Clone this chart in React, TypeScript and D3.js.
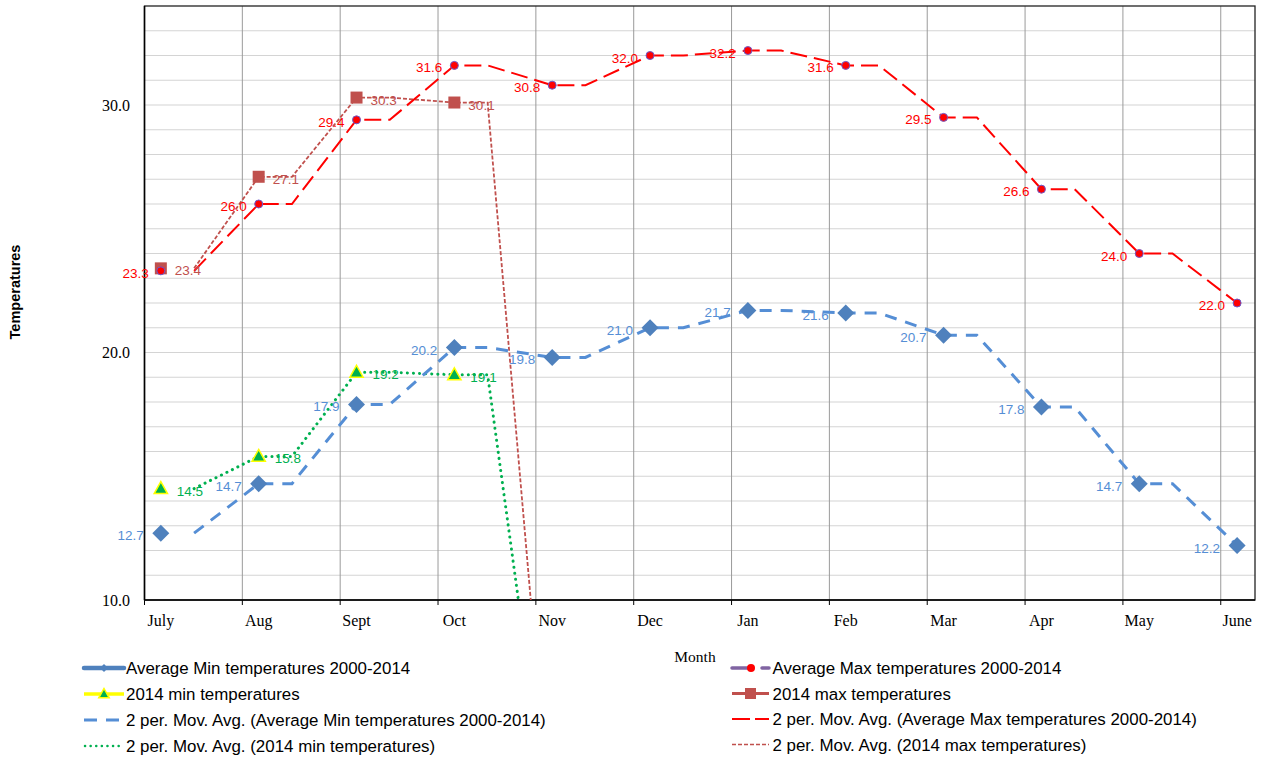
import React from "react";
import * as d3 from "d3";

const months = ["July", "Aug", "Sept", "Oct", "Nov", "Dec", "Jan", "Feb", "Mar", "Apr", "May", "June"];
const avgMin = [12.7, 14.7, 17.9, 20.2, 19.8, 21.0, 21.7, 21.6, 20.7, 17.8, 14.7, 12.2];
const avgMax = [23.3, 26.0, 29.4, 31.6, 30.8, 32.0, 32.2, 31.6, 29.5, 26.6, 24.0, 22.0];
const min2014 = [14.5, 15.8, 19.2, 19.1];
const max2014 = [23.4, 27.1, 30.3, 30.1];
const yTicks = [10, 20, 30];

const W = 1261;
const H = 758;
const plot = { left: 144.5, right: 1255, top: 6, bottom: 600 };

// points sit a few days into each month on the date axis
const PT = 0.167;
const MA = 0.34;

const x = d3.scaleLinear().domain([0, 11.35]).range([plot.left, plot.right]);
const y = d3.scaleLinear().domain([10, 34]).range([plot.bottom, plot.top]);

const line = d3
  .line<[number, number]>()
  .x((d) => x(d[0]))
  .y((d) => y(d[1]));

// 2 period moving average as the spreadsheet draws it (missing months count as 0)
function movAvg(vals: number[]): [number, number][] {
  const v = vals.length < months.length ? [...vals, 0] : vals;
  const pts: [number, number][] = [];
  v.forEach((val, i) => {
    if (i > 0) pts.push([i + PT, val]);
    if (i < v.length - 1) pts.push([i + PT + MA, val]);
  });
  return pts;
}

const sans = "'Liberation Sans', Arial, sans-serif";
const serif = "'Liberation Serif', 'Times New Roman', serif";

const C = {
  minBlue: "#4f81bd",
  minLabel: "#558ed5",
  red: "#ff0000",
  purple: "#8064a2",
  brown: "#c0504d",
  green: "#00b050",
  yellow: "#ffff00",
};

function Diamond({ cx, cy, r = 8 }: { cx: number; cy: number; r?: number }) {
  return <path d={`M${cx},${cy - r}L${cx + r},${cy}L${cx},${cy + r}L${cx - r},${cy}Z`} fill={C.minBlue} />;
}

function Triangle({ cx, cy, r = 7 }: { cx: number; cy: number; r?: number }) {
  return (
    <path
      d={`M${cx},${cy - r}L${cx + r * 0.95},${cy + r * 0.7}L${cx - r * 0.95},${cy + r * 0.7}Z`}
      fill={C.green}
      stroke={C.yellow}
      strokeWidth={1.5}
    />
  );
}

export default function App() {
  const legendLeft = [
    { label: "Average Min temperatures 2000-2014", kind: "avgMin" },
    { label: "2014 min temperatures", kind: "min2014" },
    { label: "2 per. Mov. Avg. (Average Min temperatures 2000-2014)", kind: "maMin" },
    { label: "2 per. Mov. Avg. (2014 min temperatures)", kind: "ma2014min" },
  ];
  const legendRight = [
    { label: "Average Max temperatures 2000-2014", kind: "avgMax" },
    { label: "2014 max temperatures", kind: "max2014" },
    { label: "2 per. Mov. Avg. (Average Max temperatures 2000-2014)", kind: "maMax" },
    { label: "2 per. Mov. Avg. (2014 max temperatures)", kind: "ma2014max" },
  ];

  const sample = (kind: string, x0: number, x1: number, cy: number) => {
    const mid = (x0 + x1) / 2;
    switch (kind) {
      case "avgMin":
        return (
          <g>
            <line x1={x0} x2={x1} y1={cy} y2={cy} stroke={C.minBlue} strokeWidth={4.5} strokeLinecap="round" />
            <Diamond cx={mid} cy={cy} r={4} />
          </g>
        );
      case "min2014":
        return (
          <g>
            <line x1={x0} x2={x1} y1={cy} y2={cy} stroke={C.yellow} strokeWidth={3.5} />
            <Triangle cx={mid} cy={cy} r={5.5} />
          </g>
        );
      case "maMin":
        return <line x1={x0} x2={x1} y1={cy} y2={cy} stroke={C.minLabel} strokeWidth={3} strokeDasharray="13 9" />;
      case "ma2014min":
        return (
          <line x1={x0 + 1} x2={x1} y1={cy} y2={cy} stroke={C.green} strokeWidth={2.5} strokeDasharray="0.1 5.5" strokeLinecap="round" />
        );
      case "avgMax":
        return (
          <g>
            <line x1={x0} x2={x1} y1={cy} y2={cy} stroke={C.purple} strokeWidth={3.5} strokeDasharray="16 14 8 0" strokeLinecap="round" />
            <circle cx={x0 + 19} cy={cy} r={4} fill={C.red} />
          </g>
        );
      case "max2014":
        return (
          <g>
            <line x1={x0} x2={x1} y1={cy} y2={cy} stroke={C.brown} strokeWidth={3} />
            <rect x={mid - 5.5} y={cy - 5.5} width={11} height={11} fill={C.brown} />
          </g>
        );
      case "maMax":
        return <line x1={x0} x2={x1} y1={cy} y2={cy} stroke={C.red} strokeWidth={2} strokeDasharray="18 5" />;
      default:
        return <line x1={x0} x2={x1} y1={cy} y2={cy} stroke={C.brown} strokeWidth={1.5} strokeDasharray="4 2" />;
    }
  };

  return (
    <svg width={W} height={H} style={{ position: "absolute", left: 0, top: 0, background: "#fff" }}>
      <defs>
        <clipPath id="plotClip">
          <rect x={plot.left} y={plot.top} width={plot.right - plot.left} height={plot.bottom - plot.top} />
        </clipPath>
      </defs>

      {/* horizontal grid */}
      {d3.range(11, 34).map((v) => (
        <line key={"h" + v} x1={plot.left} x2={plot.right} y1={y(v)} y2={y(v)} stroke="#d4d4d4" strokeWidth={1.2} />
      ))}
      {/* vertical grid */}
      {d3.range(1, 12).map((k) => (
        <line key={"v" + k} x1={x(k)} x2={x(k)} y1={plot.top} y2={plot.bottom} stroke="#9a9a9a" strokeWidth={1} />
      ))}
      {/* x ticks */}
      {d3.range(0, 12).map((k) => (
        <line key={"t" + k} x1={x(k)} x2={x(k)} y1={plot.bottom} y2={plot.bottom + 5} stroke="#000" strokeWidth={1} />
      ))}

      {/* plot frame */}
      <rect
        x={plot.left}
        y={plot.top}
        width={plot.right - plot.left}
        height={plot.bottom - plot.top}
        fill="none"
        stroke="#222"
        strokeWidth={1.3}
      />
      <line x1={plot.left} x2={plot.right} y1={plot.bottom} y2={plot.bottom} stroke="#000" strokeWidth={1.5} />
      <line x1={plot.left} x2={plot.left} y1={plot.top} y2={plot.bottom} stroke="#000" strokeWidth={1.5} />

      {/* y tick labels */}
      {yTicks.map((v) => (
        <text key={"yl" + v} x={130} y={y(v) + 5.5} textAnchor="end" fontFamily={serif} fontSize={16} fill="#000">
          {v.toFixed(1)}
        </text>
      ))}
      {/* month labels */}
      {months.map((m, i) => (
        <text key={m} x={x(i + PT)} y={626} textAnchor="middle" fontFamily={serif} fontSize={16} fill="#000">
          {m}
        </text>
      ))}

      <text
        transform={`translate(20,292) rotate(-90)`}
        textAnchor="middle"
        fontFamily={sans}
        fontWeight="bold"
        fontSize={14.5}
        fill="#000"
      >
        Temperatures
      </text>
      <text x={695} y={662} textAnchor="middle" fontFamily={serif} fontSize={15.5} fill="#000">
        Month
      </text>

      <g clipPath="url(#plotClip)">
        <path d={line(movAvg(max2014)) || ""} fill="none" stroke={C.brown} strokeWidth={1.8} strokeDasharray="4 2" />
        <path
          d={line(movAvg(min2014)) || ""}
          fill="none"
          stroke={C.green}
          strokeWidth={3}
          strokeDasharray="0.1 6"
          strokeLinecap="round"
        />
        <path d={line(movAvg(avgMin)) || ""} fill="none" stroke={C.minLabel} strokeWidth={3} strokeDasharray="12 9" />
        <path d={line(movAvg(avgMax)) || ""} fill="none" stroke={C.red} strokeWidth={2} strokeDasharray="17 7" />
      </g>

      {/* markers */}
      {avgMin.map((v, i) => (
        <Diamond key={"dm" + i} cx={x(i + PT)} cy={y(v)} r={8.5} />
      ))}
      {min2014.map((v, i) => (
        <Triangle key={"tm" + i} cx={x(i + PT)} cy={y(v)} r={7} />
      ))}
      {max2014.map((v, i) => (
        <rect key={"sq" + i} x={x(i + PT) - 6} y={y(v) - 6} width={12} height={12} fill={C.brown} />
      ))}
      {avgMax.map((v, i) => (
        <circle key={"cm" + i} cx={x(i + PT)} cy={y(v)} r={4} fill={C.red} stroke="#6a5acd" strokeWidth={1} />
      ))}

      {/* data labels */}
      {avgMin.map((v, i) => (
        <text key={"lm" + i} x={x(i + PT) - 17} y={y(v) + 7} textAnchor="end" fontFamily={sans} fontSize={13.5} fill={C.minLabel}>
          {v.toFixed(1)}
        </text>
      ))}
      {avgMax.map((v, i) => (
        <text key={"lx" + i} x={x(i + PT) - 12} y={y(v) + 7} textAnchor="end" fontFamily={sans} fontSize={13.5} fill={C.red}>
          {v.toFixed(1)}
        </text>
      ))}
      {min2014.map((v, i) => (
        <text key={"l4" + i} x={x(i + PT) + 16} y={y(v) + 7} fontFamily={sans} fontSize={13.5} fill={C.green}>
          {v.toFixed(1)}
        </text>
      ))}
      {max2014.map((v, i) => (
        <text key={"l5" + i} x={x(i + PT) + 14} y={y(v) + 7} fontFamily={sans} fontSize={13.5} fill={C.brown}>
          {v.toFixed(1)}
        </text>
      ))}

      {/* legend */}
      {legendLeft.map((d, i) => {
        const cy = 668 + i * 26;
        return (
          <g key={d.kind}>
            {sample(d.kind, 84, 124, cy)}
            <text x={126} y={cy + 6} fontFamily={sans} fontSize={16.9} fill="#000">
              {d.label}
            </text>
          </g>
        );
      })}
      {legendRight.map((d, i) => {
        const cy = 668 + i * 25.5;
        return (
          <g key={d.kind}>
            {sample(d.kind, 732, 769, cy)}
            <text x={772.5} y={cy + 6} fontFamily={sans} fontSize={16.9} fill="#000">
              {d.label}
            </text>
          </g>
        );
      })}
    </svg>
  );
}
